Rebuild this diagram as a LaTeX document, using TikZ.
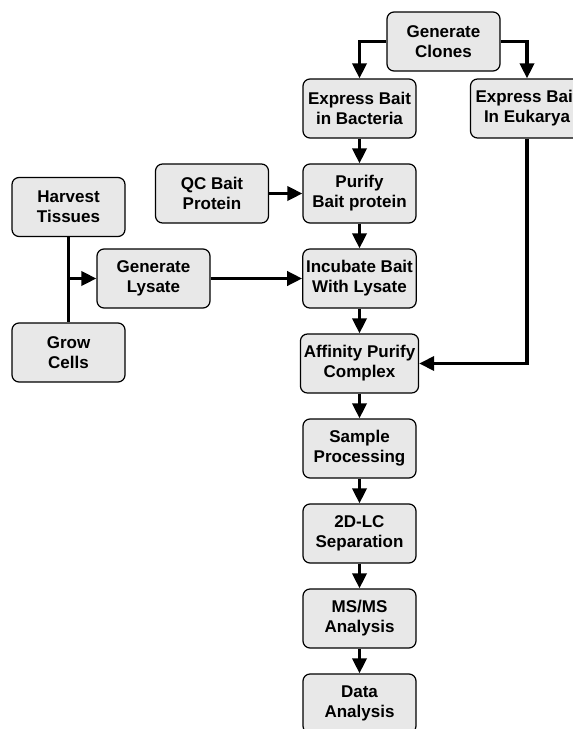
\documentclass[tikz,border=0pt]{standalone}
\usepackage{fontspec}
\setmainfont{Liberation Sans}
\usetikzlibrary{arrows.meta}

\begin{document}
\begin{tikzpicture} [x=1pt,y=-1pt,
  box/.style={draw,line width=1.2pt,rounded corners=7pt,fill=gray!18,
    minimum width=113pt,minimum height=59pt,align=center,
    font=\fontsize{17}{20}\selectfont\bfseries},
  arr/.style={line width=3.5pt,-{Triangle[width=14pt,length=15pt]}},
  link/.style={line width=3.5pt}]

\useasboundingbox (0,0) rectangle (573,729);
\clip (0,0) rectangle (573,729);

% main column
\node [box] (clones)   at (443.5,41.5)  {Generate\\Clones};
\node [box] (bacteria) at (359.5,108.5) {Express Bait\\in Bacteria};
\node [box] (eukarya)  at (527,108.5)   {Express Bait\\In Eukarya};
\node [box] (purify)   at (359.5,193.5) {Purify\\Bait protein};
\node [box] (incubate) at (359.5,278.5) {Incubate Bait\\With Lysate};
\node [box] (affinity) at (359.5,363.5) {Affinity Purify\\Complex};
\node [box] (sample)   at (359.5,448.5) {Sample\\Processing};
\node [box] (lc)       at (359.5,533.5) {2D-LC\\Separation};
\node [box] (msms)     at (359.5,618.5) {MS/MS\\Analysis};
\node [box] (data)     at (359.5,703.5) {Data\\Analysis};

% left side
\node [box] (qc)      at (212,193.5)   {QC Bait\\Protein};
\node [box] (harvest) at (68.5,207)    {Harvest\\Tissues};
\node [box] (lysate)  at (153.5,278.5) {Generate\\Lysate};
\node [box] (grow)    at (68.5,352.5)  {Grow\\Cells};

% clones split
\draw [arr] (clones.west) -| (bacteria.north);
\draw [arr] (clones.east) -| (eukarya.north);

% down the column
\draw [arr] (bacteria) -- (purify);
\draw [arr] (purify) -- (incubate);
\draw [arr] (incubate) -- (affinity);
\draw [arr] (affinity) -- (sample);
\draw [arr] (sample) -- (lc);
\draw [arr] (lc) -- (msms);
\draw [arr] (msms) -- (data);

% side inputs
\draw [arr] (qc) -- (purify);
\draw [arr] (lysate) -- (incubate);
\draw [arr] (eukarya.south) |- (affinity.east);

% tissues and cells join
\coordinate (join) at (harvest |- lysate);
\draw [link] (harvest.south) -- (grow.north);
\draw [arr] (join) -- (lysate.west);

\end{tikzpicture}
\end{document}
